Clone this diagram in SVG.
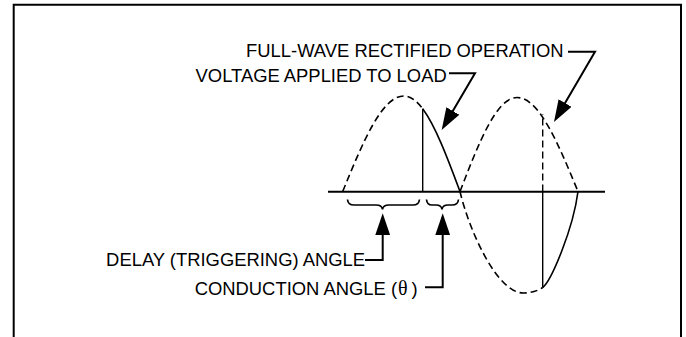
<svg xmlns="http://www.w3.org/2000/svg" width="686" height="337" viewBox="0 0 686 337">
<style>
.t{font-family:"Liberation Sans",Arial,sans-serif;font-size:18.4px;fill:#000}
.g{font-family:"Liberation Serif","Times New Roman",serif;font-size:20px}
.ln{fill:none;stroke:#000;stroke-width:2}
.cv{fill:none;stroke:#000;stroke-width:1.6}
.ds{stroke-dasharray:7 4}
.th{fill:none;stroke:#000;stroke-width:1.4}
.br{fill:none;stroke:#000;stroke-width:1.7}
</style>
<defs>
<marker id="ah" viewBox="0 0 22 15" refX="18" refY="7.5" markerWidth="22" markerHeight="15" markerUnits="userSpaceOnUse" orient="auto">
<path d="M0,0 L22,7.5 L0,15 Z" fill="#000"/>
</marker>
</defs>
<rect width="686" height="337" fill="#fff"/>
<path id="frame" class="ln" d="M13.7,337 V4.8 H681 V337"/>
<g id="axis"><path class="ln" d="M328,191.7 H605"/></g>
<g id="waveform">
<path class="cv ds" d="M342.7,191.5 C362.7,142.5 381.8,96 404,96 C410.5,96 416.7,100.8 422.7,108.8"/>
<path class="cv" d="M422.7,108.8 C435.5,126 447.6,158.2 460,191.5"/>
<path class="th" d="M422.7,191.5 V108.8"/>
<path class="cv ds" d="M460,191.5 C478.6,143.3 496.4,97.5 517,97.5 C539.1,97.5 558.1,143.3 578,191.5"/>
<path class="cv ds" d="M460,191.5 C469,230 497,293 523.3,293 C531,293 537.5,291 542.7,287.5"/>
<path class="cv" d="M542.7,287.5 C551,281 573,230 578,191.5"/>
<path class="th ds" d="M542.7,191.5 V114"/>
<path class="th" d="M542.7,191.5 V287.5"/>
</g>
<g id="brace-delay"><path class="br" d="M347.5,199.5 Q348,205 354,205 H376 Q382,205 382.5,209.5 Q383,205 389,205 H413 Q419,205 419.5,199.5"/></g>
<g id="brace-conduction"><path class="br" d="M426.5,199.5 Q427,205 432,205 H436 Q441.5,205 442,209.5 Q442.5,205 448,205 H452 Q458,205 458.5,199.5"/></g>
<g id="label-fullwave">
<text class="t" x="563.5" y="57.3" text-anchor="end">FULL-WAVE RECTIFIED OPERATION</text>
</g>
<g id="label-voltage">
<text class="t" x="446.7" y="81.5" text-anchor="end">VOLTAGE APPLIED TO LOAD</text>
</g>
<g id="label-delay">
<text class="t" x="365" y="266" text-anchor="end">DELAY (TRIGGERING) ANGLE</text>
</g>
<g id="label-conduction">
<text class="t" x="194.7" y="295">CONDUCTION ANGLE<tspan x="391">(</tspan><tspan class="g" x="398">θ</tspan><tspan x="411.5">)</tspan></text>
</g>
<g id="connectors">
<path class="ln" marker-end="url(#ah)" d="M568,51.7 H595 L556,118.5"/>
<path class="ln" marker-end="url(#ah)" d="M449,73.3 H475 L443.7,126.5"/>
<path class="ln" marker-end="url(#ah)" d="M365,260 H382.7 V217.3"/>
<path class="ln" marker-end="url(#ah)" d="M425,287.3 H442.7 V217.3"/>
</g>
</svg>
